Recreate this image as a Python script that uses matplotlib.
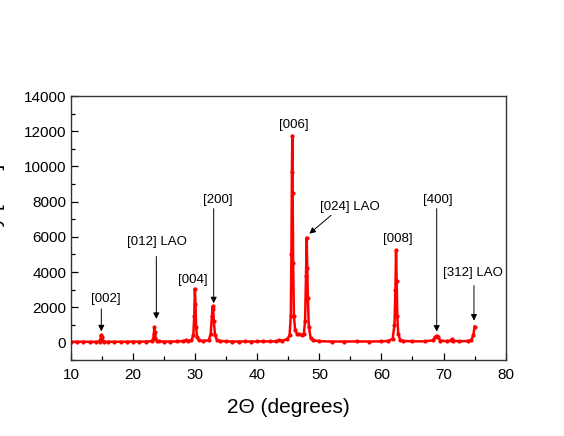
import matplotlib
matplotlib.use('Agg')
import matplotlib.pyplot as plt
from matplotlib.ticker import MultipleLocator

plt.rcParams['font.family'] = ['Liberation Sans', 'DejaVu Sans']

# 2theta (deg) and intensity
two_theta = [10.0, 11.0, 12.0, 13.0, 14.0, 14.6,
             14.75, 14.85, 14.9, 14.95, 15.05, 15.3,
             16.0, 17.0, 18.0, 19.0, 20.0, 21.0, 22.0, 23.0,
             23.25, 23.35, 23.42, 23.5, 23.6, 23.8, 24.2,
             25.0, 26.0, 27.0, 28.0, 28.5, 28.8, 29.4,
             29.7, 29.85, 29.95, 30.05, 30.15, 30.3, 30.6,
             31.2, 32.2,
             32.5, 32.7, 32.8, 32.9, 33.0, 33.2, 33.5,
             34.0, 35.0, 36.0, 37.0, 38.0, 39.0, 40.0, 41.0, 42.0, 43.0, 43.5, 44.0, 44.8, 45.2,
             45.4, 45.5, 45.58, 45.64, 45.7, 45.78, 45.9, 46.1, 46.4, 46.8, 47.2, 47.5,
             47.7, 47.85, 47.96, 48.05, 48.15, 48.3, 48.6, 49.0,
             50.0, 52.0, 54.0, 56.0, 58.0, 60.0, 61.0, 61.8,
             62.1, 62.25, 62.35, 62.45, 62.55, 62.7, 63.0, 63.5,
             65.0, 67.0, 68.3, 68.7, 68.9, 69.1, 69.5, 70.5,
             71.2, 71.4, 71.6, 72.5, 74.0, 74.5, 74.8, 75.0]
intensity = [40, 35, 40, 30, 35, 45,
             120, 380, 420, 300, 110, 45,
             35, 40, 35, 40, 45, 40, 50, 70,
             180, 500, 880, 600, 250, 100, 60,
             50, 50, 55, 70, 120, 80, 110,
             400, 1500, 3050, 2200, 900, 300, 120,
             80, 120,
             500, 1500, 2050, 1900, 1200, 400, 150,
             80, 60, 50, 50, 55, 50, 55, 60, 60, 60, 120, 100, 180, 400,
             1500, 5000, 9700, 11750, 8500, 4500, 1500, 700, 500, 450, 420, 500,
             1200, 3800, 5950, 4200, 2500, 900, 250, 120,
             70, 50, 50, 55, 50, 60, 80, 200,
             1000, 3000, 5250, 3500, 1500, 500, 150, 80,
             60, 60, 120, 330, 380, 280, 100, 70,
             110, 180, 100, 60, 80, 150, 400, 900]

# peak labels: text, text position, arrow tail, arrow head (None = no arrow)
labels = ['[002]', '[012] LAO', '[004]', '[200]', '[006]',
          '[024] LAO', '[008]', '[400]', '[312] LAO']
label_xy = [(15.67, 2490), (23.88, 5680), (29.68, 3573), (33.65, 8103),
            (45.84, 12330), (54.85, 7692), (62.59, 5869), (69.03, 8074),
            (74.71, 3954)]
arrow_from = [(14.88, 1903), (23.74, 4883), None, (32.98, 7601), None,
              (51.88, 7219), None, (68.9, 7601), (74.9, 3231)]
arrow_to = [(14.88, 627), (23.74, 1333), None, (32.98, 2222), None,
            (48.39, 6177), None, (68.9, 610), (74.9, 1236)]

fig = plt.figure(figsize=(5.64, 4.36), dpi=100)
ax = fig.add_axes([0.1259, 0.1743, 0.7706, 0.6055])

ax.plot(two_theta, intensity, '-', color='red', lw=1.8,
        marker='o', markersize=3, markeredgewidth=0)

for txt, pos, a, b in zip(labels, label_xy, arrow_from, arrow_to):
    ax.text(pos[0], pos[1], txt, ha='center', va='center', fontsize=9.5)
    if a is not None:
        ax.annotate('', xy=b, xytext=a,
                    arrowprops=dict(arrowstyle='-|>', color='k', lw=0.7,
                                    mutation_scale=9, shrinkA=0, shrinkB=0))

ax.set_xlim(10, 80)
ax.set_ylim(-1000, 14000)
ax.xaxis.set_major_locator(MultipleLocator(10))
ax.xaxis.set_minor_locator(MultipleLocator(5))
ax.yaxis.set_major_locator(MultipleLocator(2000))
ax.yaxis.set_minor_locator(MultipleLocator(1000))
ax.tick_params(which='both', direction='in', top=False, right=False, labelsize=11)
ax.tick_params(which='major', length=5, width=0.9)
ax.tick_params(which='minor', length=3, width=0.9)
ax.tick_params(axis='x', pad=6)
for sp in ax.spines.values():
    sp.set_linewidth(1.0)
    sp.set_color('#333333')

ax.set_xlabel('2\u0398 (degrees)', fontsize=15, labelpad=11)
# the reference crops this label at the left edge
fig.text(5 / 564, 1 - 228.5 / 436, 'Intensity [a.u.]', rotation=90,
         ha='right', va='center', fontsize=15)

fig.savefig('out.png', dpi=100)
